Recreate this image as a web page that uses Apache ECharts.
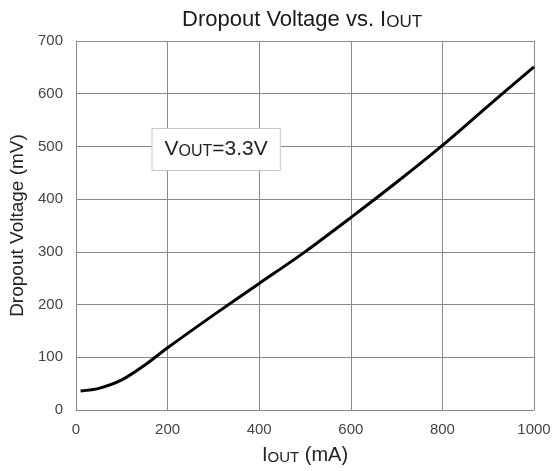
<!DOCTYPE html>
<html>
<head>
<meta charset="utf-8">
<script src="https://cdn.jsdelivr.net/npm/echarts@6/dist/echarts.min.js"></script>
<style>
  html, body { margin: 0; padding: 0; background: #fff; }
  #chart { width: 558px; height: 471px; }
</style>
</head>
<body>
<div id="chart"></div>
<script>
// Iout (mA) vs dropout voltage (mV)
const iout = [10, 50, 100, 150, 200, 300, 400, 500, 600, 700, 800, 900, 1000]
const dropout = [36, 41, 57, 85, 118, 180, 240, 300, 365, 432, 502, 577, 651]
const xTicks = [0, 200, 400, 600, 800, 1000]
const yTicks = [0, 100, 200, 300, 400, 500, 600, 700]
const note = { x: 306, y: 494 }

const font = 'Liberation Sans, Arial, sans-serif'
const gridColor = '#8a8a8a'

// big letter + small caps, both sitting on the same line bottom
function caps(big, small, color) {
  return {
    a: { fontSize: big, lineHeight: big, verticalAlign: 'bottom', color, fontFamily: font, fontWeight: 'normal' },
    b: { fontSize: small, lineHeight: small, verticalAlign: 'bottom', color, fontFamily: font, fontWeight: 'normal' }
  }
}

const chart = echarts.init(document.getElementById('chart'))
chart.setOption({
  animation: false,
  title: {
    text: '{a|Dropout Voltage vs. I}{b|OUT}',
    left: 182,
    top: 9,
    padding: 0,
    textStyle: { rich: caps(22, 17, '#1a1a1a') }
  },
  grid: { left: 76, right: 24, top: 41, bottom: 61 },
  xAxis: {
    type: 'value',
    min: xTicks[0],
    max: xTicks[xTicks.length - 1],
    interval: 200,
    name: '{a|I}{b|OUT}{a| (mA)}',
    nameLocation: 'middle',
    nameGap: 35,
    nameTextStyle: { rich: caps(20, 15, '#222') },
    axisLine: { lineStyle: { color: gridColor, width: 1 }},
    axisTick: { show: false },
    axisLabel: { color: '#444', fontSize: 15, fontFamily: font, margin: 12, formatter: v => String(v) },
    splitLine: { show: true, lineStyle: { color: gridColor, width: 1 }}
  },
  yAxis: {
    type: 'value',
    min: yTicks[0],
    max: yTicks[yTicks.length - 1],
    interval: 100,
    name: 'Dropout Voltage (mV)',
    nameLocation: 'middle',
    nameGap: 41,
    nameTextStyle: { fontSize: 19, color: '#222', fontFamily: font },
    axisLine: { show: true, lineStyle: { color: gridColor, width: 1 }},
    axisTick: { show: false },
    axisLabel: { color: '#444', fontSize: 15, fontFamily: font, margin: 13 },
    splitLine: { show: true, lineStyle: { color: gridColor, width: 1 }}
  },
  series: [
    {
      type: 'line',
      data: iout.map((x, i) => [x, dropout[i]]),
      smooth: 0.3,
      showSymbol: false,
      lineStyle: { color: '#000', width: 3 },
      markPoint: {
        symbol: 'rect',
        symbolSize: 0,
        silent: true,
        data: [{
          coord: [note.x, note.y],
          label: {
            show: true,
            position: 'inside',
            formatter: '{a|V}{b|OUT}{a|=3.3V}',
            backgroundColor: '#fff',
            borderColor: '#c8c8c8',
            borderWidth: 1,
            padding: [10, 12, 10, 12],
            rich: caps(21, 16, '#222')
          }
        }]
      }
    }
  ]
})
</script>
</body>
</html>
